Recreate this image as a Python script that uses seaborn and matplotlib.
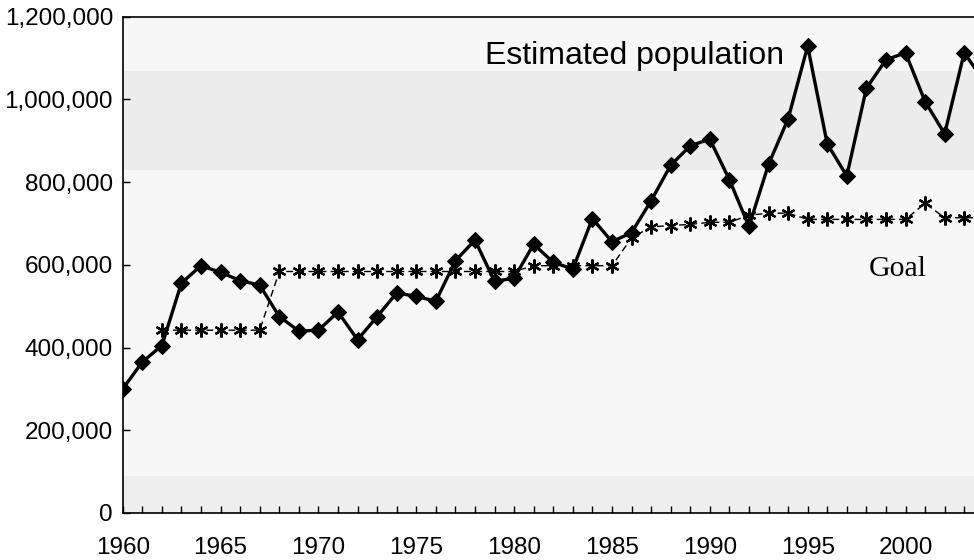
import numpy as np
import pandas as pd
import matplotlib
matplotlib.use("Agg")
import matplotlib.pyplot as plt
from matplotlib.ticker import FuncFormatter, MultipleLocator
import seaborn as sns

# Estimated population (1960 - 2004, the last one is cut by the frame)
pop_years = list(range(1960, 2005))
pop_values = [300000, 365000, 405000, 556000, 598000, 582000, 562000, 551000,
              475000, 440000, 442000, 486000, 419000, 475000, 532000, 524000,
              512000, 610000, 660000, 560000, 568000, 650000, 606000, 590000,
              712000, 656000, 678000, 755000, 841000, 888000, 904000, 806000,
              693000, 843000, 953000, 1129000, 893000, 815000, 1027000, 1096000,
              1113000, 995000, 917000, 1113000, 1045000]

# Goal (starts 1962)
goal_years = list(range(1962, 2005))
goal_values = [442000] * 6 + [584000] * 13 + [598000] * 5 + \
              [665000, 692000, 695000, 698000, 703000, 703000, 720000, 725000,
               725000, 710000, 710000, 710000, 710000, 710000, 710000, 749000,
               714000, 714000, 714000]

pop_df = pd.DataFrame({"year": pop_years, "population": pop_values})
goal_df = pd.DataFrame({"year": goal_years, "goal": goal_values})

sns.set_style("ticks")
plt.rcParams["font.family"] = ["Liberation Sans", "DejaVu Sans"]
plt.rcParams["xtick.color"] = "black"
plt.rcParams["ytick.color"] = "black"
plt.rcParams["xtick.labelcolor"] = "black"
plt.rcParams["ytick.labelcolor"] = "black"

fig = plt.figure(figsize=(9.74, 5.6), dpi=100)
ax = fig.add_axes([0.126, 0.084, 0.874, 0.886])
ax.set_facecolor("#f7f7f7")

# scanned paper look: slightly darker bands
ax.axhspan(830000, 1070000, color="#ececec", zorder=0, lw=0)
ax.axhspan(0, 90000, color="#eeeeee", zorder=0, lw=0)

sns.lineplot(data=goal_df, x="year", y="goal", ax=ax, color="black",
             linewidth=1.0, linestyle=(0, (5, 3)), marker=(6, 2, 0),
             markersize=10, markeredgewidth=1.6, markeredgecolor="black",
             zorder=3)
sns.lineplot(data=pop_df, x="year", y="population", ax=ax, color="black",
             linewidth=2.4, marker="D", markersize=8.5, markeredgecolor="black",
             zorder=4)

ax.set_xlim(1960, 2003.5)
ax.set_ylim(0, 1200000)
ax.set_xlabel("")
ax.set_ylabel("")

ax.xaxis.set_major_locator(MultipleLocator(5))
ax.xaxis.set_minor_locator(MultipleLocator(1))
ax.yaxis.set_major_locator(MultipleLocator(200000))
ax.yaxis.set_major_formatter(FuncFormatter(lambda v, p: f"{int(v):,}"))

ax.tick_params(axis="x", which="both", direction="in", length=5, width=1,
               pad=17, labelsize=17.5)
ax.tick_params(axis="y", which="major", direction="in", length=5, width=1,
               pad=7, labelsize=17.5)

for side in ["left", "bottom", "top"]:
    ax.spines[side].set_color("black")
    ax.spines[side].set_linewidth(1.2)
ax.spines["right"].set_visible(False)

ax.text(1978.5, 1085000, "Estimated population", fontsize=23,
        ha="left", va="baseline", color="black")
ax.text(1998.1, 573000, "Goal", fontsize=21.5,
        family=["Liberation Serif", "DejaVu Serif"],
        ha="left", va="baseline", color="black")

fig.savefig("out.png", dpi=100)
